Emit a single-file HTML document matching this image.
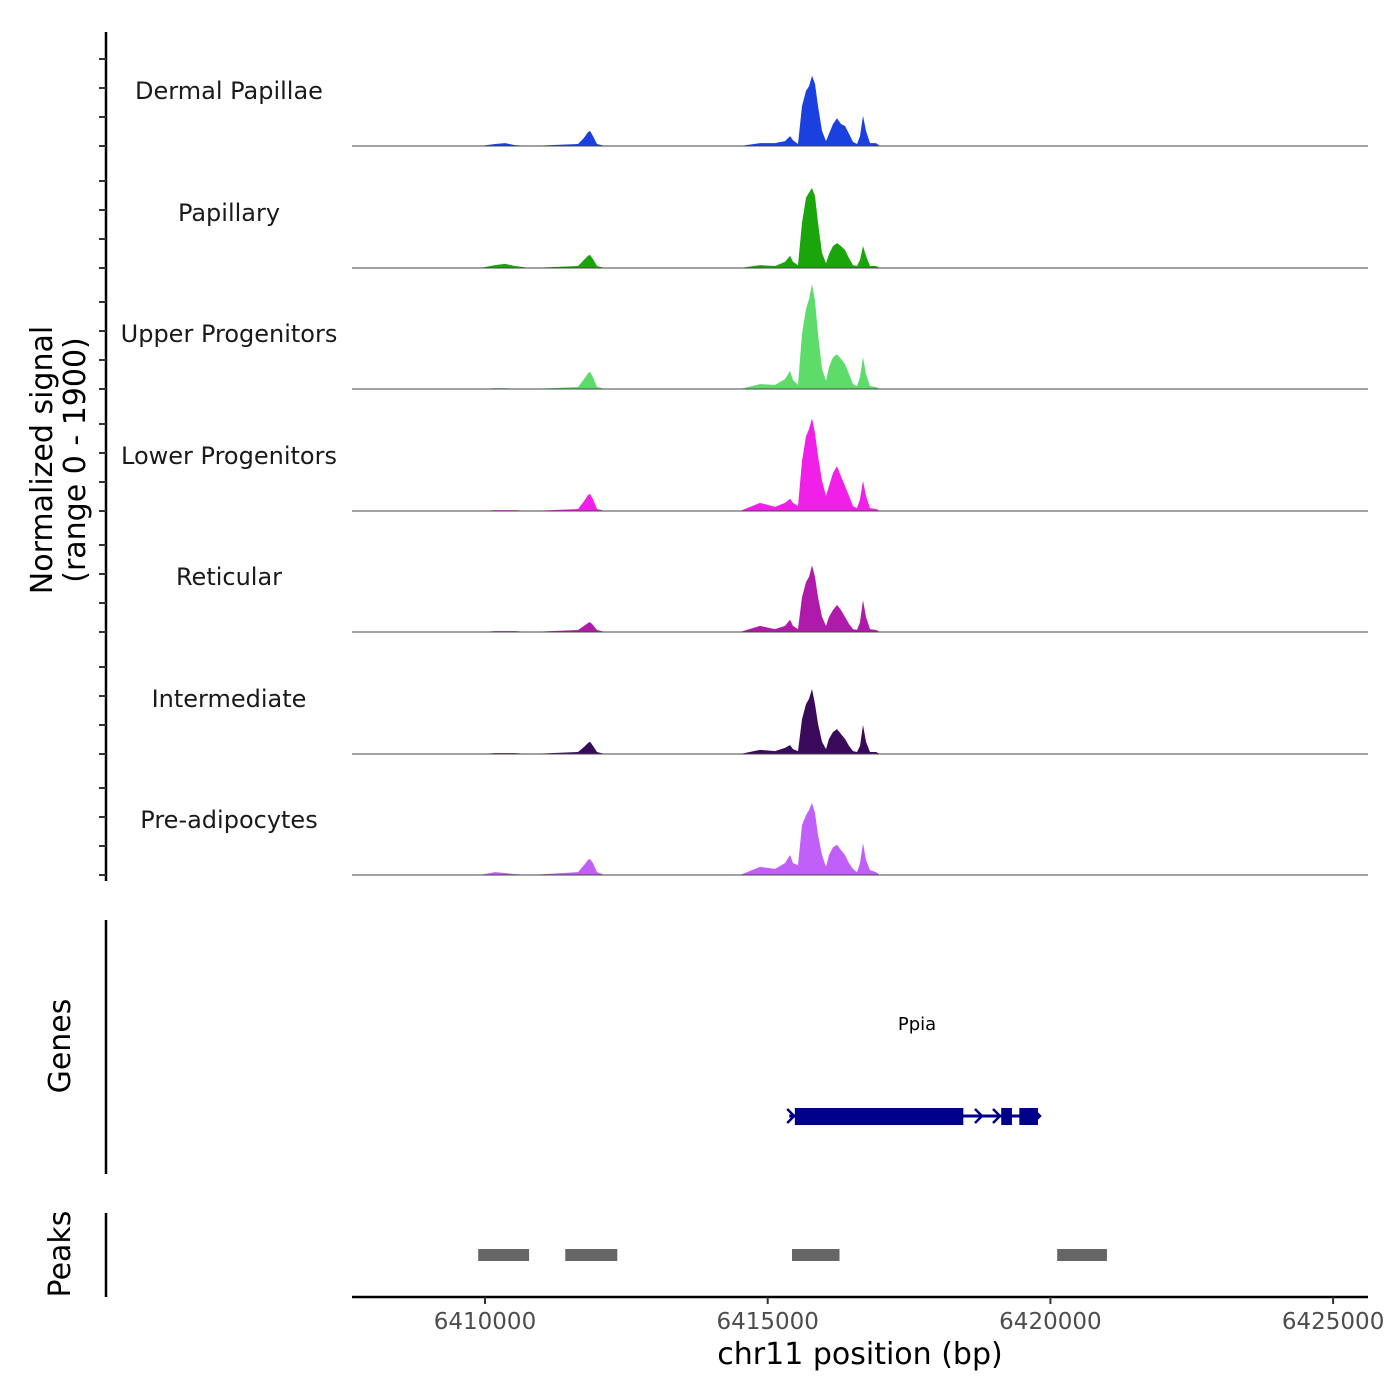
<!DOCTYPE html>
<html><head><meta charset="utf-8">
<style>
html,body{margin:0;padding:0;background:#fff;}
svg{display:block;font-family:"DejaVu Sans","Liberation Sans",sans-serif;}
</style></head>
<body>
<svg id="chart" width="1400" height="1400" viewBox="0 0 1400 1400" xmlns="http://www.w3.org/2000/svg">
<rect width="1400" height="1400" fill="#fff"/>
<g id="tracks"></g>
<g id="yaxis"></g>
<text transform="translate(52,460) rotate(-90)" text-anchor="middle" font-size="30" fill="#000">Normalized signal</text>
<text transform="translate(85,460) rotate(-90)" text-anchor="middle" font-size="30" fill="#000">(range 0 - 1900)</text>
<line x1="106" y1="920" x2="106" y2="1174" stroke="#000" stroke-width="2.5"/>
<text transform="translate(70,1046) rotate(-90)" text-anchor="middle" font-size="30" fill="#000">Genes</text>
<g id="genes"></g>
<line x1="106" y1="1213" x2="106" y2="1297" stroke="#000" stroke-width="2.5"/>
<text transform="translate(70,1254) rotate(-90)" text-anchor="middle" font-size="30" fill="#000">Peaks</text>
<g id="peaks"></g>
<g id="xaxis"></g>
<text x="860" y="1364" text-anchor="middle" font-size="30" fill="#000">chr11 position (bp)</text>
</svg>
<script>
const trackNames = ["Dermal Papillae","Papillary","Upper Progenitors","Lower Progenitors","Reticular","Intermediate","Pre-adipocytes"];
const trackColors = ["#1a40e0","#1aa50a","#5ddc6a","#f020e8","#b01aaa","#3a0a5a","#c060f8"];
const positions = [6407648,6409912,6410177,6410354,6410531,6410796,6411645,6411751,6411822,6411857,6411910,6411981,6412123,6414510,6414864,6415129,6415306,6415394,6415448,6415536,6415607,6415677,6415731,6415784,6415837,6415890,6415960,6416031,6416084,6416155,6416226,6416296,6416367,6416438,6416509,6416579,6416632,6416686,6416739,6416809,6416915,6416986,6425617];
const dermalValues = [0,0,35,50,15,0,35,140,240,260,170,35,0,0,50,50,85,170,100,35,690,950,1030,1210,1070,690,260,85,210,380,480,380,345,210,70,35,170,520,260,50,50,0,0];
const papillaryValues = [0,0,50,70,35,0,35,140,210,225,155,35,0,0,50,35,105,210,105,50,780,1210,1300,1380,1240,780,260,85,240,380,430,380,310,170,50,35,140,380,210,35,35,0,0];
const upperValues = [0,0,15,15,0,0,35,170,275,295,205,35,0,0,85,70,170,310,155,70,950,1380,1550,1810,1520,950,345,140,380,550,600,520,430,260,85,50,205,550,260,50,35,0,0];
const lowerValues = [0,0,15,15,15,0,35,170,275,295,205,35,0,0,140,70,140,210,140,85,860,1290,1410,1600,1340,950,520,260,430,655,775,600,430,260,85,50,205,520,260,50,35,0,0];
const reticularValues = [0,0,15,15,15,0,35,105,155,170,120,35,0,0,105,50,105,210,105,50,600,860,950,1150,950,600,260,105,260,380,465,380,260,140,50,35,170,550,260,50,35,0,0];
const intermediateValues = [0,0,15,15,15,0,35,120,190,210,140,35,0,0,70,50,105,155,85,50,600,860,950,1120,860,520,210,85,260,380,430,345,260,140,50,35,140,500,210,35,35,0,0];
const preadipValues = [0,0,50,35,15,0,50,170,260,275,205,50,0,0,140,105,205,345,205,170,860,1030,1120,1240,1070,690,345,140,345,480,520,430,345,205,105,50,205,550,260,85,50,0,0];
const yTicks = [0,500,1000,1500];
const xTicks = [6410000,6415000,6420000,6425000];
const xTickLabels = ["6410000","6415000","6420000","6425000"];
const peakStarts = [6409880,6411420,6415430,6420120];
const peakEnds = [6410780,6412340,6416270,6421000];
const geneName = "Ppia";
const geneStart = 6415380;
const geneEnd = 6419780;
const exonStarts = [6415480,6419130,6419450];
const exonEnds = [6418460,6419320,6419780];

const allValues = [dermalValues,papillaryValues,upperValues,lowerValues,reticularValues,intermediateValues,preadipValues];
const NS = "http://www.w3.org/2000/svg";
const X0 = 352, X1 = 1368, BP0 = 6407648, BP1 = 6425617;
function xs(bp){ return X0 + (bp - BP0) / (BP1 - BP0) * (X1 - X0); }
const baselines = [146,268,389,511,632,754,875];
const pxPerUnit = 29/500;
function ys(v, i){ return baselines[i] - v * pxPerUnit; }
function mk(tag, attrs, parent){ const e = document.createElementNS(NS, tag); for (const k in attrs) e.setAttribute(k, attrs[k]); parent.appendChild(e); return e; }

const gT = document.getElementById('tracks');
allValues.forEach((vals, i) => {
  let d = "M" + xs(positions[0]) + "," + baselines[i];
  vals.forEach((v, j) => { d += " L" + xs(positions[j]).toFixed(1) + "," + ys(v, i).toFixed(1); });
  d += " L" + xs(positions[positions.length-1]) + "," + baselines[i] + " Z";
  const p = mk('path', {d: d, fill: trackColors[i]}, gT);
  
  
  const bl = mk('line', {x1: X0, x2: X1, y1: baselines[i], y2: baselines[i], stroke: '#444', 'stroke-width': 1}, gT);
  
  
  const t = mk('text', {x: 229, y: baselines[i] - 47, 'text-anchor': 'middle', 'font-size': 24, fill: '#1a1a1a'}, gT);
  t.textContent = trackNames[i];
  
  
});

const gY = document.getElementById('yaxis');
const ax = mk('line', {x1: 106, x2: 106, y1: 32, y2: 881, stroke: '#000', 'stroke-width': 2.5}, gY);


baselines.forEach((b, i) => {
  yTicks.forEach(v => {
    const tk = mk('line', {x1: 99, x2: 106, y1: ys(v, i), y2: ys(v, i), stroke: '#333', 'stroke-width': 2}, gY);
    
    
  });
});

const gG = document.getElementById('genes');
const gl = mk('line', {x1: xs(geneStart), x2: xs(geneEnd), y1: 1116, y2: 1116, stroke: '#00008b', 'stroke-width': 3}, gG);


exonStarts.forEach((s, k) => {
  const r = mk('rect', {x: xs(s), y: 1108, width: xs(exonEnds[k]) - xs(s), height: 17, fill: '#00008b'}, gG);
  
  
});
[xs(geneStart)+5, 982, 1000, 1012, 1040].forEach(x => {
  const a = mk('path', {d: `M${x-7},1109 L${x},1116 L${x-7},1123`, fill: 'none', stroke: '#00008b', 'stroke-width': 2.5}, gG);
  
  
});
const gn = mk('text', {x: 917, y: 1030, 'text-anchor': 'middle', 'font-size': 18, fill: '#000'}, gG);
gn.textContent = geneName;



const gP = document.getElementById('peaks');
peakStarts.forEach((s, k) => {
  const r = mk('rect', {x: xs(s), y: 1249, width: xs(peakEnds[k]) - xs(s), height: 12, fill: '#666'}, gP);
  
  
});

const gX = document.getElementById('xaxis');
const xl = mk('line', {x1: X0, x2: X1, y1: 1297, y2: 1297, stroke: '#000', 'stroke-width': 2.5}, gX);


xTicks.forEach((t, k) => {
  const tk = mk('line', {x1: xs(t), x2: xs(t), y1: 1297, y2: 1304, stroke: '#333', 'stroke-width': 2}, gX);
  
  
  const lb = mk('text', {x: xs(t), y: 1329, 'text-anchor': 'middle', 'font-size': 23, fill: '#4d4d4d'}, gX);
  lb.textContent = xTickLabels[k];
  
  
});
</script>
</body></html>
